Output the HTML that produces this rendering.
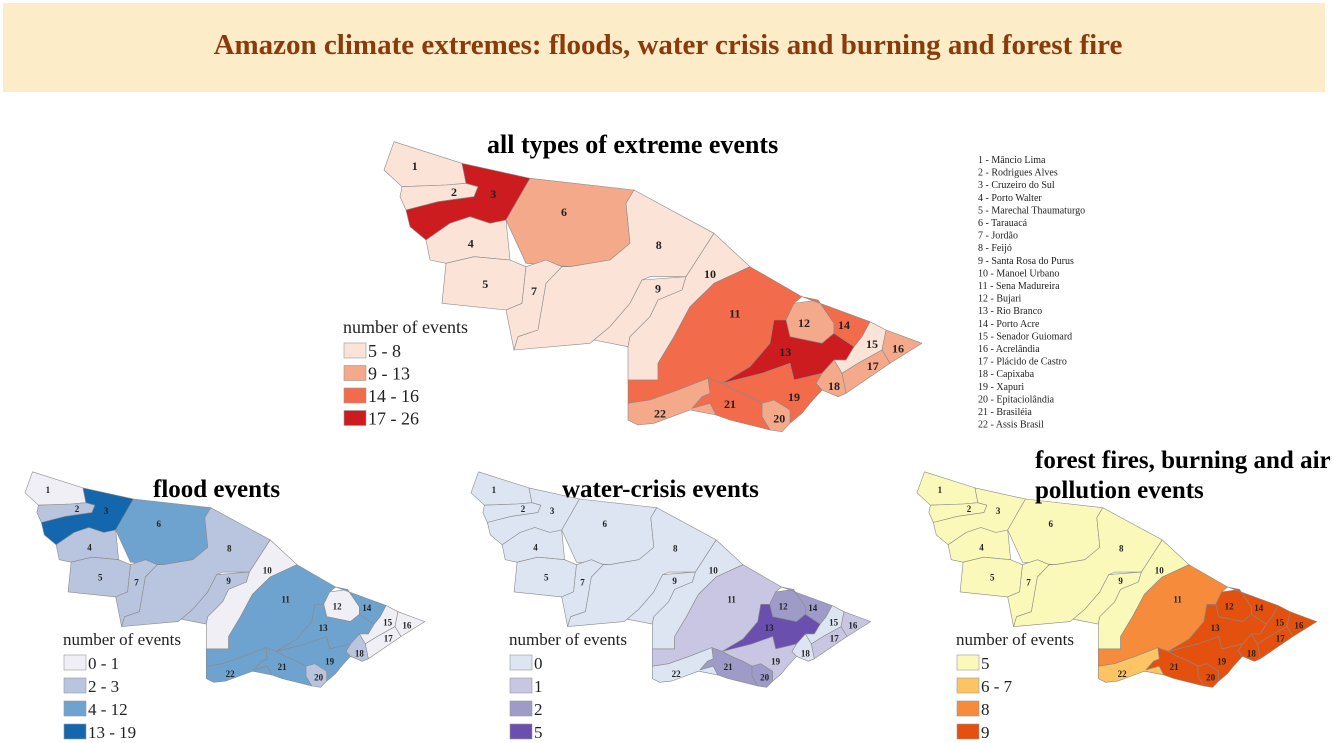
<!DOCTYPE html>
<html><head><meta charset="utf-8">
<style>
body{margin:0;width:1333px;height:743px;background:#fff;overflow:hidden;font-family:"Liberation Serif",serif;}
svg{position:absolute;left:0;top:0;}
</style></head>
<body>
<svg id="s" width="1333" height="743">
<rect x="3" y="3" width="1322" height="89" fill="#fcecc8"/>
<text x="668" y="54" text-anchor="middle" font-family="Liberation Serif" font-weight="bold" font-size="29" fill="#8a3b0c">Amazon climate extremes: floods, water crisis and burning and forest fire</text>
</svg>
<script>
const mapTitles=["all types of extreme events","flood events","water-crisis events","forest fires, burning and air|pollution events"];
const legendLabels=[["5 - 8","9 - 13","14 - 16","17 - 26"],["0 - 1","2 - 3","4 - 12","13 - 19"],["0","1","2","5"],["5","6 - 7","8","9"]];
const palettes=[["#fbe3d8","#f4a98a","#f26b4b","#cc1c1f"],["#f0eff5","#b9c4de","#6fa3cf","#1467ad"],["#dde5f3","#c8c6e2","#9e9bc9","#6a4fae"],["#fbf9b9","#fdc463","#f68b3c","#e4510e"]];
const allClasses=[0,0,3,0,0,1,0,0,0,0,2,1,3,2,0,1,1,1,2,1,2,1];
const floodClasses=[0,1,3,1,1,2,1,1,1,0,2,0,2,2,0,0,0,1,2,1,2,2];
const waterClasses=[0,0,0,0,0,0,0,0,0,0,1,2,3,2,0,1,1,0,1,2,2,0];
const fireClasses=[0,0,0,0,0,0,0,0,0,0,2,3,3,3,3,3,3,3,3,3,3,1];
const municipalities=["Mâncio Lima","Rodrigues Alves","Cruzeiro do Sul","Porto Walter","Marechal Thaumaturgo","Tarauacá","Jordão","Feijó","Santa Rosa do Purus","Manoel Urbano","Sena Madureira","Bujari","Rio Branco","Porto Acre","Senador Guiomard","Acrelândia","Plácido de Castro","Capixaba","Xapuri","Epitaciolândia","Brasiléia","Assis Brasil"];

const P=[
[[160,35],[330,100],[340,160],[290,165],[180,170],[135,120]],
[[180,170],[290,165],[340,160],[370,170],[360,200],[270,215],[190,240],[175,200]],
[[330,100],[500,145],[440,270],[400,280],[350,260],[300,280],[240,330],[200,290],[190,240],[270,215],[360,200],[370,170],[340,160]],
[[240,330],[300,280],[350,260],[400,280],[440,270],[450,390],[360,380],[290,400],[250,390]],
[[290,400],[360,380],[450,390],[490,410],[480,520],[440,540],[280,520]],
[[500,145],[760,180],[740,220],[750,340],[700,390],[600,410],[490,400],[440,270]],
[[490,410],[540,390],[580,410],[540,460],[520,600],[470,620],[460,660],[440,540],[480,520]],
[[760,180],[960,310],[890,440],[800,440],[780,450],[750,520],[700,590],[660,630],[650,640],[460,660],[470,620],[520,600],[540,460],[580,410],[600,410],[700,390],[750,340],[740,220]],
[[780,450],[890,440],[880,480],[820,510],[800,560],[750,620],[745,650],[660,630],[700,590],[750,520]],
[[960,310],[1050,410],[960,460],[900,530],[860,620],[820,700],[820,750],[745,750],[745,650],[750,620],[800,560],[820,510],[880,480],[890,440]],
[[1050,410],[1180,500],[1160,520],[1140,570],[1110,570],[1100,640],[1050,710],[980,760],[945,745],[870,780],[800,810],[745,820],[745,750],[820,750],[820,700],[860,620],[900,530],[960,460]],
[[1160,520],[1220,510],[1260,580],[1260,610],[1230,640],[1150,620],[1140,570]],
[[1110,570],[1140,570],[1150,620],[1230,640],[1260,610],[1310,650],[1290,690],[1260,690],[1230,730],[1160,750],[1150,700],[1080,730],[980,760],[1050,710],[1100,640]],
[[1180,500],[1350,575],[1330,620],[1310,650],[1260,610],[1260,580],[1220,510]],
[[1350,575],[1390,600],[1380,660],[1320,700],[1280,730],[1260,690],[1290,690],[1310,650],[1330,620]],
[[1390,600],[1480,640],[1400,700],[1380,660]],
[[1380,660],[1400,700],[1290,790],[1280,730],[1320,700]],
[[1260,690],[1280,730],[1290,790],[1270,800],[1230,780],[1215,760],[1230,730]],
[[1160,750],[1230,730],[1215,760],[1230,780],[1200,820],[1180,850],[1150,880],[1150,840],[1110,820],[1080,820],[1050,800],[1010,780],[980,760],[1080,730],[1150,700]],
[[1080,820],[1110,810],[1150,840],[1150,880],[1130,905],[1100,900],[1080,860]],
[[945,745],[980,760],[1010,780],[1050,800],[1080,820],[1080,860],[1100,900],[1000,870],[965,855],[950,820],[905,835],[930,800],[950,790]],
[[745,820],[800,810],[870,780],[945,745],[950,790],[930,800],[905,835],[950,820],[965,855],[900,840],[810,880],[770,885],[745,870]]
];
const L=[[212,108],[310,185],[408,192],[352,340],[388,462],[585,245],[510,482],[822,345],[820,475],[950,432],[1012,550],[1185,578],[1138,665],[1285,585],[1355,642],[1420,655],[1357,708],[1260,768],[1160,800],[1123,865],[1000,822],[825,850]];

const NS="http://www.w3.org/2000/svg";
const svg=document.getElementById('s');
function mk(tag,attrs,parent){const e=document.createElementNS(NS,tag);for(const k in attrs)e.setAttribute(k,attrs[k]);(parent||svg).appendChild(e);return e;}

const maps=[
 {cls:allClasses,tx:330,ty:130,sx:0.4,sy:1/3,fs:12,title:[487,153,26],leg:[343,333,18,22.5]},
 {cls:floodClasses,tx:-15.1,ty:463.1,sx:0.2972,sy:0.2477,fs:9,title:[153,497,25],leg:[63,645,17,23]},
 {cls:waterClasses,tx:430.9,ty:463.1,sx:0.2972,sy:0.2477,fs:9,title:[562,497,25],leg:[509,645,17,23]},
 {cls:fireClasses,tx:876.9,ty:463.1,sx:0.2972,sy:0.2477,fs:9,title:[1035,468,25],leg:[956,645,17,23]}
];
const mapNames=["all-events-map","flood-map","water-crisis-map","fire-map"];
maps.forEach((m,mi)=>{
  const g=mk('g',{});
  
  
  const X=x=>m.tx+x*m.sx, Y=y=>m.ty+y*m.sy;
  P.forEach((poly,i)=>{
    const pts=poly.map(p=>X(p[0]).toFixed(1)+','+Y(p[1]).toFixed(1)).join(' ');
    const pg=mk('polygon',{points:pts,fill:palettes[mi][m.cls[i]],stroke:'#8a8a8a','stroke-width':0.6,'stroke-linejoin':'round'},g);
    
    
  });
  L.forEach((p,i)=>{
    const t=mk('text',{x:X(p[0]),y:Y(p[1])+m.fs*0.35,'text-anchor':'middle','font-size':m.fs,'font-weight':'bold','font-family':'Liberation Serif',fill:'#222'},g);
    t.textContent=String(i+1);
    
    
  });
  const lines=mapTitles[mi].split('|');
  lines.forEach((ln,k)=>{
    const t=mk('text',{x:m.title[0],y:m.title[1]+k*30,'font-size':m.title[2],'font-weight':'bold','font-family':'Liberation Serif',fill:'#000'},g);
    t.textContent=ln;
    
    
  });
  const [lx,ly,lfs,step]=m.leg;
  const lt=mk('text',{x:lx,y:ly,'font-size':lfs,'font-family':'Liberation Serif',fill:'#222'},g);
  lt.textContent='number of events';
  
  
  legendLabels[mi].forEach((lab,k)=>{
    const yy=ly+10+k*step;
    const r=mk('rect',{x:lx+1,y:yy,width:22,height:15,fill:palettes[mi][k],stroke:'#999','stroke-width':0.6},g);
    
    
    const t=mk('text',{x:lx+25,y:yy+14,'font-size':lfs,'font-family':'Liberation Serif',fill:'#222'},g);
    t.textContent=lab;
    
    
  });
});
const kg=mk('g',{});


municipalities.forEach((n,i)=>{
  const t=mk('text',{x:978,y:163+i*12.6,'font-size':10,'font-family':'Liberation Serif',fill:'#222'},kg);
  t.textContent=(i+1)+' - '+n;
  
  
});
</script>
</body></html>
